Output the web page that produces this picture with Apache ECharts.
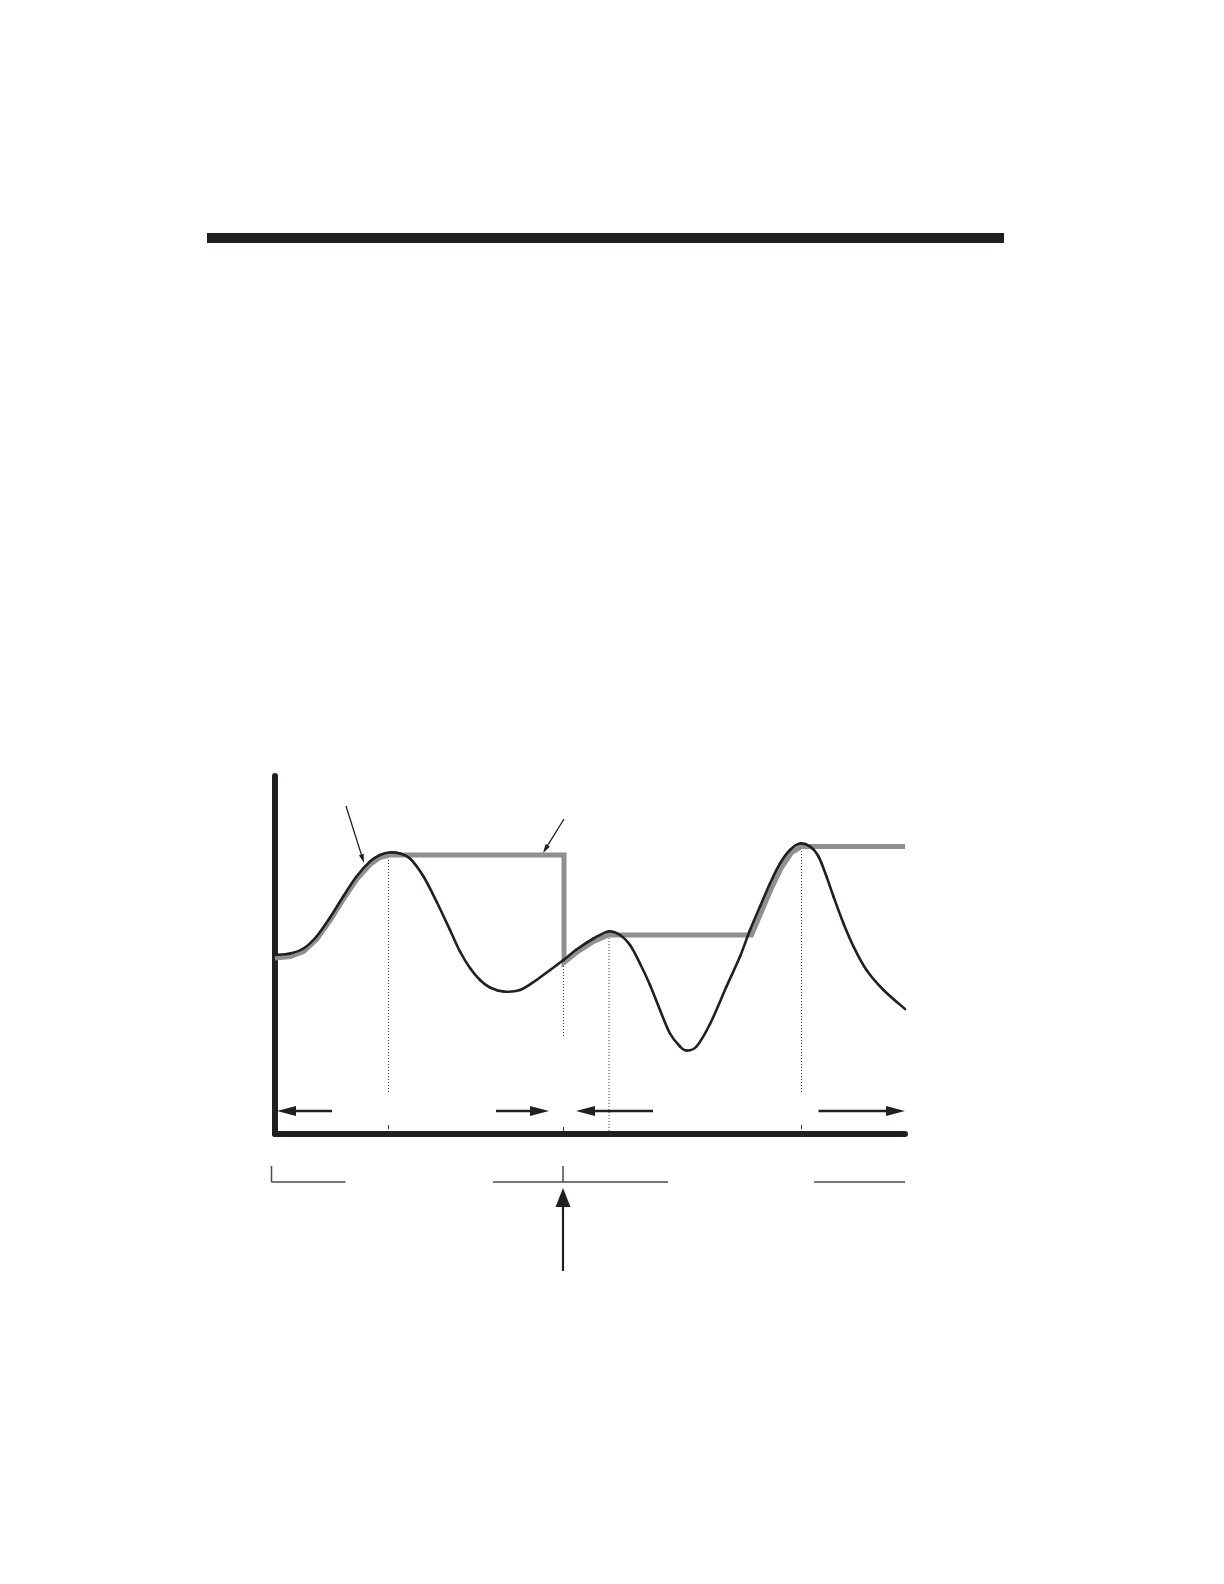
<!DOCTYPE html>
<html>
<head>
<meta charset="utf-8">
<script src="https://cdn.jsdelivr.net/npm/echarts@6/dist/echarts.min.js"></script>
<style>
  html, body { margin: 0; padding: 0; background: #ffffff; }
  #chart { width: 1224px; height: 1584px; }
</style>
</head>
<body>
<div id="chart"></div>
<script>
// ---- Data (time units on x, price units on y) ----
const priceCurve = [
  [0, 35.8], [3, 36.1], [5.7, 37.1], [8.3, 39.5], [11, 43.3], [13.7, 47.6], [16.3, 51.5],
  [19, 54.5], [21, 55.8], [22.9, 56.3], [25, 56.1], [27, 55.1], [29.7, 51.5], [32.3, 46.5],
  [35, 40.8], [37, 36.5], [39, 33.2], [41, 30.8], [43, 29.3], [45.7, 28.5], [49, 28.8], [52.3, 30.8],
  [55, 32.8], [57.7, 34.8], [60.3, 36.9], [63.7, 39.1], [66.7, 40.5], [69, 39.8], [71, 37.8],
  [73, 34.1], [75, 29.8], [77, 24.8], [79, 20.1], [81, 17.5], [82.3, 16.7], [84.3, 17.5],
  [87, 22.0], [90.3, 29.5], [93, 35.5], [95, 40.8], [97, 45.5], [99, 50.1], [101, 54.1],
  [103, 56.8], [105, 58.1], [107, 57.5], [108.7, 55.5], [110.3, 51.5], [111.7, 47.5],
  [113.7, 42.1], [115.7, 37.5], [118.3, 32.8], [121.7, 28.8], [126, 25.0]
];

const trailingLine = [
  [0, 35.2], [3, 35.5], [5.7, 36.5], [8.3, 38.9], [11, 42.7], [13.7, 47.0], [16.3, 50.9],
  [19, 53.9], [21, 55.3], [22.9, 55.8], [57.8, 55.8], [57.8, 34.3], [60.3, 36.3],
  [63.7, 38.5], [66.7, 39.8], [95.3, 39.8], [97.3, 44.5], [99.3, 49.2], [101.3, 53.3],
  [103.3, 56.3], [105.3, 57.5], [126, 57.5]
];

// vertical dotted guides: [x, yFrom, yTo]
const guideLines = [[22.7, 54.8, 8.2], [57.7, 34.2, 19.2], [66.8, 39.8, 0.6], [105.3, 57.2, 8.2]];
// short marks just above the time axis: [x, yFrom, yTo]
const axisMarks = [[22.7, 1.8, 1.0], [57.7, 1.4, 0.6], [105.3, 1.8, 1.0]];
// horizontal range arrows: [xFrom, yFrom, xTip, yTip]
const rangeArrows = [[11.4, 4.6, 0.4, 4.6], [44.2, 4.6, 54.8, 4.6], [75.6, 4.6, 60.2, 4.6], [108.7, 4.6, 126, 4.6]];
// thin pointer arrows: [xFrom, yFrom, xTip, yTip]
const pointerArrows = [[14.2, 65.6, 17.8, 54.2], [57.8, 63.0, 53.6, 56.2]];
// event arrow below the axis: [xFrom, yFrom, xTip, yTip]
const eventArrow = [[57.6, -27.4, 57.6, -10.8]];
// bracket segments below the axis: [xFrom, xTo, y]
const bracketSegments = [[-0.7, 14.1, -9.6], [43.6, 78.6, -9.6], [107.8, 126, -9.6]];
// bracket ticks: [x, yFrom, yTo]
const bracketTicks = [[-0.7, -6.4, -9.6], [57.6, -6.4, -9.6]];

const INK = '#231f20';
const GREY = '#8f8f8f';

function arrowRenderer(headLen, headW, lineW, color) {
  return function (params, api) {
    const p1 = api.coord([api.value(0), api.value(1)]);
    const p2 = api.coord([api.value(2), api.value(3)]);
    const dx = p2[0] - p1[0], dy = p2[1] - p1[1];
    const len = Math.hypot(dx, dy) || 1;
    const ux = dx / len, uy = dy / len;
    const bx = p2[0] - ux * headLen, by = p2[1] - uy * headLen;
    const nx = -uy, ny = ux;
    return {
      type: 'group',
      children: [
        { type: 'line', shape: { x1: p1[0], y1: p1[1], x2: bx + ux, y2: by + uy },
          style: { stroke: color, lineWidth: lineW } },
        { type: 'polygon', shape: { points: [[p2[0], p2[1]],
            [bx + nx * headW / 2, by + ny * headW / 2], [bx - nx * headW / 2, by - ny * headW / 2]] },
          style: { fill: color } }
      ]
    };
  };
}

function vLineRenderer(width, color, dash) {
  return function (params, api) {
    const a = api.coord([api.value(0), api.value(1)]);
    const b = api.coord([api.value(0), api.value(2)]);
    return { type: 'line', shape: { x1: a[0], y1: a[1], x2: b[0], y2: b[1] },
      style: { stroke: color, lineWidth: width, lineDash: dash || null } };
  };
}

function hLineRenderer(width, color) {
  return function (params, api) {
    const a = api.coord([api.value(0), api.value(2)]);
    const b = api.coord([api.value(1), api.value(2)]);
    return { type: 'line', shape: { x1: a[0], y1: a[1], x2: b[0], y2: b[1] },
      style: { stroke: color, lineWidth: width } };
  };
}

// Smooth curve drawn segment by segment (Catmull-Rom through the data points, via the axes)
function splineRenderer(points, width, color) {
  return function (params, api) {
    const i = params.dataIndex;
    if (i >= points.length - 1) return null;
    const P = (k) => api.coord(points[Math.max(0, Math.min(points.length - 1, k))]);
    const p0 = P(i - 1), p1 = P(i), p2 = P(i + 1), p3 = P(i + 2);
    return {
      type: 'bezierCurve',
      shape: {
        x1: p1[0], y1: p1[1], x2: p2[0], y2: p2[1],
        cpx1: p1[0] + (p2[0] - p0[0]) / 6, cpy1: p1[1] + (p2[1] - p0[1]) / 6,
        cpx2: p2[0] - (p3[0] - p1[0]) / 6, cpy2: p2[1] - (p3[1] - p1[1]) / 6
      },
      style: { stroke: color, lineWidth: width, fill: null, lineCap: 'round' }
    };
  };
}

const chart = echarts.init(document.getElementById('chart'), null, { renderer: 'canvas' });

chart.setOption({
  backgroundColor: '#ffffff',
  animation: false,
  graphic: [
    { type: 'rect', left: 207, top: 233, shape: { width: 797, height: 10 }, style: { fill: INK } }
  ],
  grid: { left: 275, top: 776, width: 630, height: 358, containLabel: false },
  xAxis: {
    type: 'value', min: 0, max: 126,
    axisLine: { show: true, onZero: false, lineStyle: { color: INK, width: 6 } },
    axisTick: { show: false }, axisLabel: { show: false }, splitLine: { show: false }
  },
  yAxis: {
    type: 'value', min: 0, max: 71.6,
    axisLine: { show: true, onZero: false, lineStyle: { color: INK, width: 6 } },
    axisTick: { show: false }, axisLabel: { show: false }, splitLine: { show: false }
  },
  series: [
    { type: 'custom', name: 'guides', data: guideLines, renderItem: vLineRenderer(1, '#3a3a3a', [1, 2]), z: 1, silent: true },
    { type: 'custom', name: 'axisMarks', data: axisMarks, renderItem: vLineRenderer(1, '#3a3a3a'), z: 1, silent: true },
    {
      type: 'line', name: 'trailing', data: trailingLine, showSymbol: false, symbol: 'none', smooth: false,
      lineStyle: { color: GREY, width: 5, join: 'miter', cap: 'butt' }, z: 2, silent: true
    },
    {
      type: 'custom', name: 'price', data: priceCurve, encode: { x: 0, y: 1 },
      renderItem: splineRenderer(priceCurve, 2.6, INK), z: 3, silent: true
    },
    { type: 'custom', name: 'rangeArrows', data: rangeArrows, renderItem: arrowRenderer(19, 10, 2.5, INK), z: 4, silent: true },
    { type: 'custom', name: 'pointers', data: pointerArrows, renderItem: arrowRenderer(9, 5, 1.3, INK), z: 4, silent: true },
    { type: 'custom', name: 'event', data: eventArrow, renderItem: arrowRenderer(19, 15, 2.2, INK), z: 4, silent: true },
    { type: 'custom', name: 'brackets', data: bracketSegments, renderItem: hLineRenderer(1.5, '#4a4a4a'), z: 4, silent: true },
    { type: 'custom', name: 'bracketTicks', data: bracketTicks, renderItem: vLineRenderer(1.5, '#4a4a4a'), z: 4, silent: true }
  ]
});
</script>
</body>
</html>
